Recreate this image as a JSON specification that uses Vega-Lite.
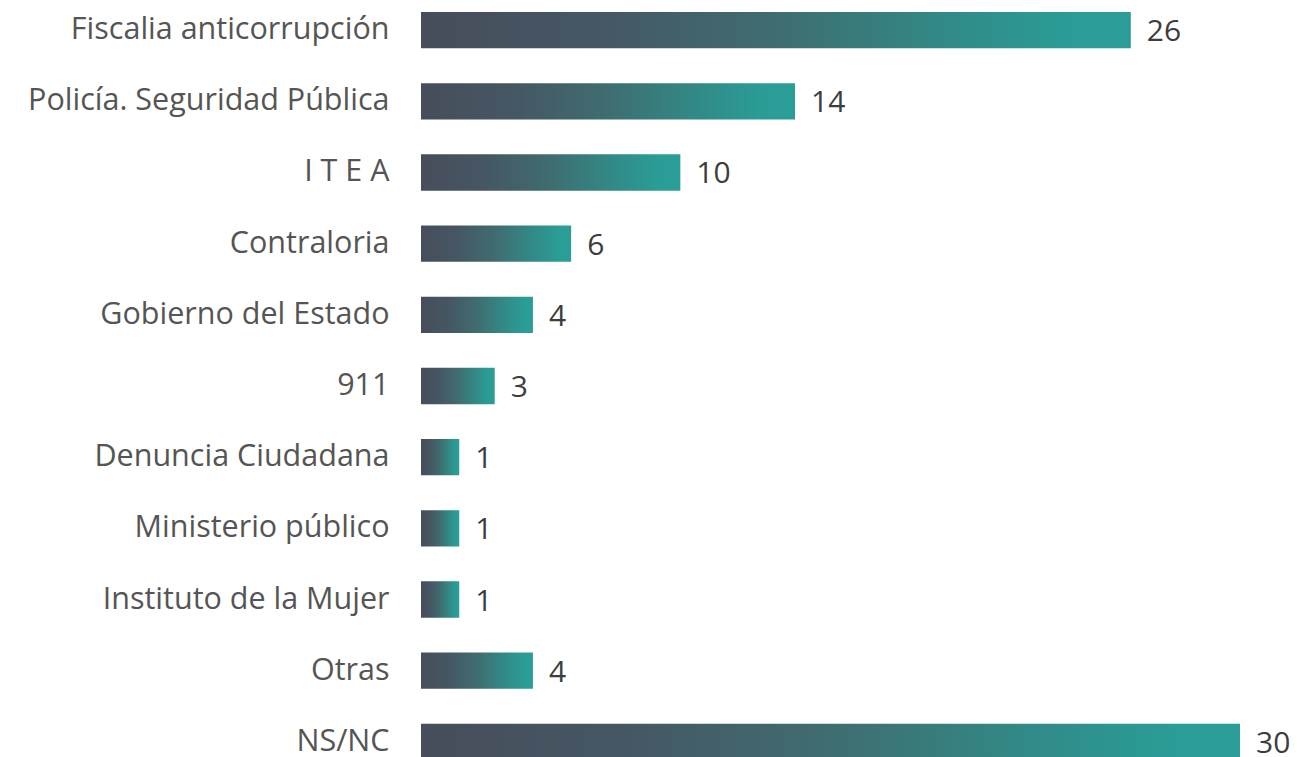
{
  "$schema": "https://vega.github.io/schema/vega-lite/v6.json",
  "autosize": {"type": "none"},
  "padding": {"left": 421, "top": 12, "right": 57, "bottom": 0},
  "width": 819,
  "height": 748,
  "background": "white",
  "config": {"view": {"stroke": null}},
  "data": {"values": [
    {"fuente": "Fiscalia anticorrupción", "valor": 26.0},
    {"fuente": "Policía. Seguridad Pública", "valor": 13.7},
    {"fuente": "I T E A", "valor": 9.5},
    {"fuente": "Contraloria", "valor": 5.5},
    {"fuente": "Gobierno del Estado", "valor": 4.1},
    {"fuente": "911", "valor": 2.7},
    {"fuente": "Denuncia Ciudadana", "valor": 1.4},
    {"fuente": "Ministerio público", "valor": 1.4},
    {"fuente": "Instituto de la Mujer", "valor": 1.4},
    {"fuente": "Otras", "valor": 4.1},
    {"fuente": "NS/NC", "valor": 30.0}
  ]},
  "encoding": {
    "y": {
      "field": "fuente", "type": "nominal", "sort": null,
      "scale": {"paddingInner": 0.49, "paddingOuter": 0},
      "axis": {"title": null, "domain": false, "ticks": false, "labelPadding": 32,
               "labelFont": "Open Sans", "labelFontSize": 30.5, "labelColor": "#555555", "labelLimit": 500}
    },
    "x": {
      "field": "valor", "type": "quantitative",
      "scale": {"domain": [0, 30], "nice": false},
      "axis": null
    }
  },
  "layer": [
    {
      "mark": {"type": "bar", "color": {
        "gradient": "linear", "x1": 0, "y1": 0, "x2": 1, "y2": 0,
        "stops": [
          {"offset": 0, "color": "#474d5b"},
          {"offset": 0.25, "color": "#455763"},
          {"offset": 0.5, "color": "#3f6d70"},
          {"offset": 0.75, "color": "#318b88"},
          {"offset": 0.92, "color": "#2a9d96"},
          {"offset": 1, "color": "#2a9d96"}
        ]
      }}
    },
    {
      "mark": {"type": "text", "align": "left", "baseline": "middle", "dx": 16, "dy": 2,
               "font": "Open Sans", "fontSize": 30, "color": "#3d3d3d"},
      "encoding": {"text": {"field": "valor", "type": "quantitative", "format": ".0f"}}
    }
  ]
}
